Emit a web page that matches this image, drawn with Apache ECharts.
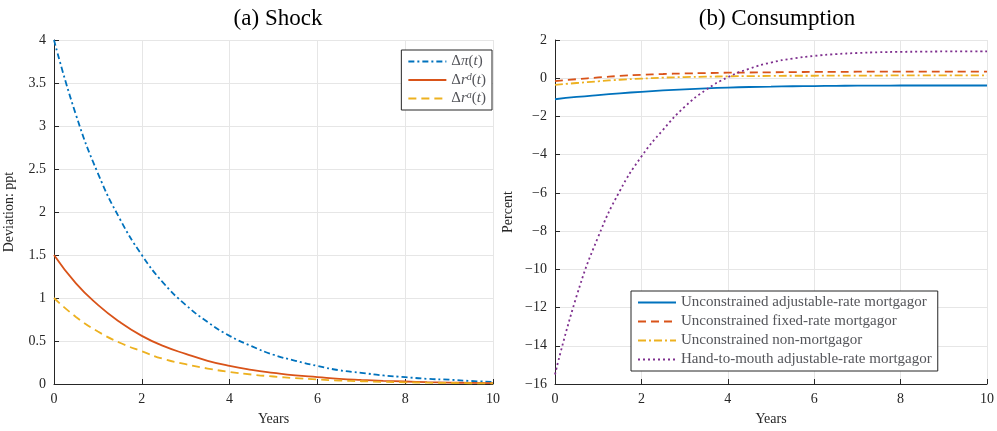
<!DOCTYPE html><html><head><meta charset="utf-8">
<script src="https://cdn.jsdelivr.net/npm/echarts@6/dist/echarts.min.js"></script>
<style>body{margin:0;background:#fff}#c{width:997px;height:431px}</style></head><body><div id="c"></div><script>
const years=[0,0.5,1,1.5,2,2.5,3,3.5,4,4.5,5,5.5,6,6.5,7,7.5,8,8.5,9,9.5,10];
const dPi=[4,3.13,2.45,1.92,1.5,1.17,0.92,0.72,0.56,0.44,0.34,0.27,0.21,0.16,0.13,0.1,0.08,0.06,0.05,0.035,0.025];
const dRd=[1.5,1.17,0.92,0.72,0.56,0.44,0.35,0.27,0.21,0.165,0.13,0.1,0.08,0.06,0.047,0.037,0.029,0.022,0.017,0.013,0.01];
const dRa=[1,0.78,0.61,0.48,0.38,0.29,0.23,0.18,0.14,0.11,0.087,0.068,0.053,0.04,0.032,0.025,0.02,0.015,0.012,0.009,0.007];
const uArm=[-1.1,-0.98,-0.88,-0.79,-0.71,-0.64,-0.58,-0.53,-0.49,-0.46,-0.44,-0.42,-0.41,-0.4,-0.39,-0.39,-0.38,-0.38,-0.38,-0.38,-0.38];
const uFrm=[-0.15,-0.05,0.04,0.12,0.18,0.22,0.25,0.27,0.29,0.3,0.31,0.32,0.33,0.33,0.34,0.34,0.34,0.35,0.35,0.35,0.35];
const uNon=[-0.35,-0.25,-0.16,-0.08,-0.02,0.03,0.06,0.08,0.1,0.11,0.12,0.13,0.13,0.14,0.14,0.14,0.15,0.15,0.15,0.15,0.15];
const htm=[-15.5,-11.4,-8.3,-5.9,-4.1,-2.7,-1.5,-0.6,0.05,0.5,0.82,1.03,1.17,1.26,1.32,1.36,1.38,1.39,1.4,1.4,1.4];
const F='Liberation Serif';
const pair=a=>years.map((x,i)=>[x,a[i]]);
const ax=(g,o)=>Object.assign({gridIndex:g,type:'value',axisLine:{show:true,onZero:false,lineStyle:{color:'#262626'}},axisTick:{show:true,inside:true,lineStyle:{color:'#262626'}},splitLine:{show:true,lineStyle:{color:'#e6e6e6'}},axisLabel:{color:'#262626',fontFamily:F,fontSize:14},nameTextStyle:{color:'#262626',fontFamily:F,fontSize:14}},o);
const ln=(name,d,c,t,g)=>({name,type:'line',xAxisIndex:g,yAxisIndex:g,data:pair(d),symbol:'none',smooth:true,lineStyle:{color:c,width:1.8,type:t},itemStyle:{color:c}});
const B='#0072bd',R='#d95319',Y='#edb120',P='#7e2f8e';
echarts.init(document.getElementById('c')).setOption({animation:false,
title:[{text:'(a) Shock',left:273,top:2,textAlign:'center',textStyle:{fontFamily:F,fontWeight:'normal',fontSize:23,color:'#000'}},
{text:'(b) Consumption',left:772,top:2,textAlign:'center',textStyle:{fontFamily:F,fontWeight:'normal',fontSize:23,color:'#000'}}],
grid:[{left:54,width:439,top:40,height:344},{left:555,width:435,top:40,height:344}],
xAxis:[ax(0,{min:0,max:10,interval:2,name:'Years',nameLocation:'middle',nameGap:28}),ax(1,{min:0,max:10,interval:2,name:'Years',nameLocation:'middle',nameGap:28})],
yAxis:[ax(0,{min:0,max:4,interval:0.5,name:'Deviation: ppt',nameLocation:'middle',nameGap:38}),ax(1,{min:-16,max:2,interval:2,name:'Percent',nameLocation:'middle',nameGap:40,axisLabel:{color:'#262626',fontFamily:F,fontSize:14,formatter:v=>String(v).replace('-','−')}})],
legend:[{data:['Δπ(t)','Δr^d(t)','Δr^a(t)'],right:505,top:50,orient:'vertical',itemGap:3,itemWidth:38,itemStyle:{opacity:0},backgroundColor:'#fff',borderColor:'#262626',borderWidth:1,padding:[4,6],formatter:n=>({'Δπ(t)':'Δ{i|π}({i|t})','Δr^d(t)':'Δ{i|r}{s|d}({i|t})','Δr^a(t)':'Δ{i|r}{s|a}({i|t})'})[n],textStyle:{fontFamily:F,fontSize:15,rich:{i:{fontStyle:'italic',fontFamily:F,fontSize:15},s:{fontStyle:'italic',fontSize:10,verticalAlign:'top',padding:[0,0,6,0],fontFamily:F}}}},
{data:['Unconstrained adjustable-rate mortgagor','Unconstrained fixed-rate mortgagor','Unconstrained non-mortgagor','Hand-to-mouth adjustable-rate mortgagor'],left:631,top:291,orient:'vertical',itemGap:4,itemWidth:38,itemStyle:{opacity:0},backgroundColor:'#fff',borderColor:'#262626',borderWidth:1,padding:[4,6],textStyle:{fontFamily:F,fontSize:15}}],
series:[ln('Δπ(t)',dPi,B,[6,3,2,3],0),ln('Δr^d(t)',dRd,R,'solid',0),ln('Δr^a(t)',dRa,Y,[8,5],0),
ln('Unconstrained adjustable-rate mortgagor',uArm,B,'solid',1),ln('Unconstrained fixed-rate mortgagor',uFrm,R,[8,5],1),ln('Unconstrained non-mortgagor',uNon,Y,[8,3,2,3],1),ln('Hand-to-mouth adjustable-rate mortgagor',htm,P,[2,3],1)]});
</script></body></html>
